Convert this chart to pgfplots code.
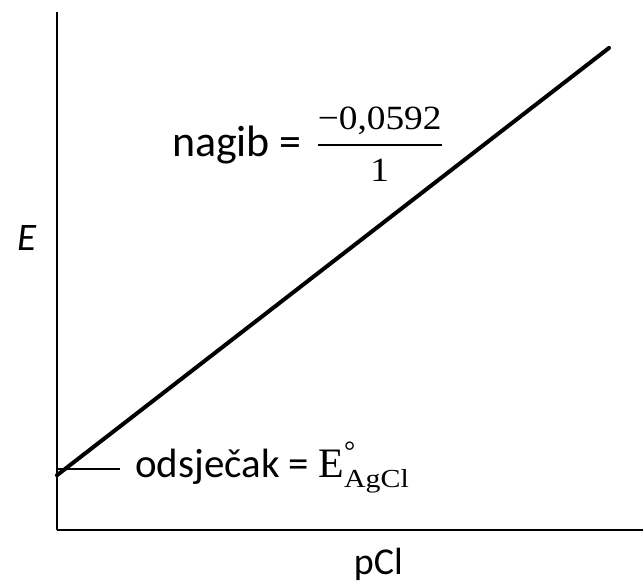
\documentclass[border=0pt]{standalone}
\usepackage{fontspec}
\setmainfont{Carlito}
\newfontfamily\numf{Liberation Serif}
\usepackage{graphicx}
\usepackage{pgfplots}
\pgfplotsset{compat=1.18}

% 1 unit = 1 px of the reference, 0.5pt each
\newcommand{\numtxt}[1]{\scalebox{1.1}[1]{\numf\fontsize{17}{19}\selectfont #1}}

\begin{document}
\begin{tikzpicture}
\begin{axis}[
    width=293.5pt,
    height=259.5pt,
    scale only axis,
    xmin=0, xmax=587,
    ymin=0, ymax=519,
    axis x line*=bottom,
    axis y line*=left,
    axis line style={line width=1pt, black},
    ticks=none,
    clip=false
]
\path (axis cs:-57,-50) rectangle (axis cs:587,531);

% E vs pCl
\addplot[black, line width=2pt, line cap=round] coordinates {(0,55) (553,483)};
% intercept marker
\addplot[black, line width=1pt] coordinates {(0,61) (63,61)};

\node[anchor=center, font=\fontsize{19.5}{22}\selectfont\itshape] at (axis cs:-30,293) {E};
\node[anchor=base, font=\fontsize{19}{22}\selectfont] at (axis cs:322,-44) {pCl};

\node[anchor=base west, font=\fontsize{22}{26}\selectfont, inner sep=0pt] at (axis cs:115,374) {nagib = \hspace{3pt}%
  \raisebox{-12.5pt}{\setlength{\arrayrulewidth}{1pt}\renewcommand{\arraystretch}{0}%
   \setlength{\tabcolsep}{0pt}%
   \begin{tabular}[b]{c}
     \numtxt{−0,0592}\rule[-7pt]{0pt}{7pt}\\\hline
     \rule{0pt}{18pt}\numtxt{1}
   \end{tabular}}};

\node[anchor=base west, font=\fontsize{20.5}{24}\selectfont, inner sep=0pt] at (axis cs:78,53) {odsječak =
  {\numf\fontsize{21}{24}\selectfont E}%
  \rlap{\raisebox{8.5pt}{\numf\fontsize{14}{16}\selectfont °}}%
  \raisebox{-5pt}{\scalebox{1.15}[1]{\numf\fontsize{13}{15}\selectfont AgCl}}};
\end{axis}
\end{tikzpicture}
\end{document}
